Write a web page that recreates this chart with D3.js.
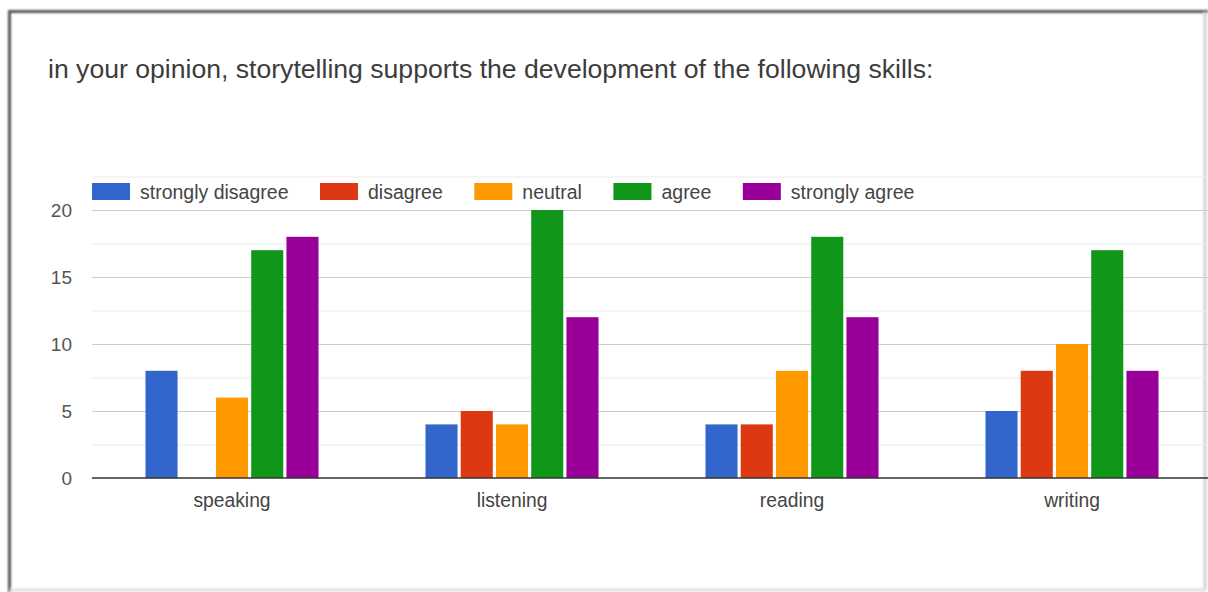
<!DOCTYPE html>
<html>
<head>
<meta charset="utf-8">
<script src="https://cdn.jsdelivr.net/npm/d3@7"></script>
<style>
  html, body { margin: 0; padding: 0; background: #fff; }
  svg { display: block; font-family: "Liberation Sans", Arial, sans-serif; }
</style>
</head>
<body>
<svg id="chart" width="1208" height="592"></svg>
<script>
// Survey responses per skill
const skills = ["speaking", "listening", "reading", "writing"];
const responses = ["strongly disagree", "disagree", "neutral", "agree", "strongly agree"];
const colors = ["#3366cc", "#dc3912", "#ff9900", "#109618", "#990099"];
const stronglyDisagree = [8, 4, 4, 5];
const disagree = [0, 5, 4, 8];
const neutral = [6, 4, 8, 10];
const agree = [17, 20, 18, 17];
const stronglyAgree = [18, 12, 12, 8];
const yTicks = [0, 5, 10, 15, 20];
const yMinorTicks = [2.5, 7.5, 12.5, 17.5, 22.5];
const title = "in your opinion, storytelling supports the development of the following skills:";

const seriesValues = [stronglyDisagree, disagree, neutral, agree, stronglyAgree];

const svg = d3.select("#chart");
const W = 1208, H = 592;

// card frame
const defs = svg.append("defs");
defs.append("filter").attr("id", "soft")
  .append("feGaussianBlur").attr("stdDeviation", 0.9);
const frame = svg.append("g").attr("filter", "url(#soft)");
frame.append("line").attr("x1", 8).attr("x2", W).attr("y1", 11.5).attr("y2", 11.5)
  .attr("stroke", "#555").attr("stroke-width", 3);
frame.append("line").attr("x1", 9.5).attr("x2", 9.5).attr("y1", 10).attr("y2", H)
  .attr("stroke", "#555").attr("stroke-width", 3);
frame.append("line").attr("x1", 1205).attr("x2", 1205).attr("y1", 12).attr("y2", 590)
  .attr("stroke", "#d0d0d0").attr("stroke-width", 3);
frame.append("line").attr("x1", 10).attr("x2", 1206).attr("y1", 590).attr("y2", 590)
  .attr("stroke", "#e0e0e0").attr("stroke-width", 3);

// title
svg.append("text")
  .attr("x", 48).attr("y", 78)
  .attr("font-size", 26.6)
  .attr("fill", "#3c3c3c")
  .text(title);

// scales
const plotLeft = 92, plotRight = 1212;
const y = d3.scaleLinear().domain([0, 22.5]).range([478, 176.5]);
const x0 = d3.scaleBand().domain(skills).range([plotLeft, plotRight])
  .paddingInner(0.382).paddingOuter(0.191);
const x1 = d3.scaleBand().domain(responses).range([0, x0.bandwidth()]).paddingInner(0.09);

// gridlines
svg.append("g").selectAll("line").data(yMinorTicks).join("line")
  .attr("x1", plotLeft).attr("x2", W)
  .attr("y1", d => y(d) + 0.5).attr("y2", d => y(d) + 0.5)
  .attr("stroke", "#ebebeb").attr("stroke-width", 1);
svg.append("g").selectAll("line").data(yTicks.filter(d => d !== 0)).join("line")
  .attr("x1", plotLeft).attr("x2", W)
  .attr("y1", d => y(d) + 0.5).attr("y2", d => y(d) + 0.5)
  .attr("stroke", "#cccccc").attr("stroke-width", 1);

// y tick labels
svg.append("g").selectAll("text").data(yTicks).join("text")
  .attr("x", 72).attr("y", d => y(d)).attr("dy", "0.36em")
  .attr("text-anchor", "end").attr("font-size", 19)
  .attr("fill", "#555")
  .text(d => d);

// bars
const groups = svg.append("g").selectAll("g").data(skills).join("g")
  .attr("transform", s => `translate(${x0(s)},0)`);
groups.selectAll("rect")
  .data((s, i) => responses.map((r, k) => ({ r, k, v: seriesValues[k][i] })))
  .join("rect")
  .attr("x", d => x1(d.r))
  .attr("width", x1.bandwidth())
  .attr("y", d => y(d.v))
  .attr("height", d => y(0) - y(d.v))
  .attr("fill", d => colors[d.k]);

// baseline
svg.append("line").attr("x1", plotLeft).attr("x2", W)
  .attr("y1", y(0)).attr("y2", y(0))
  .attr("stroke", "#333").attr("stroke-width", 1.5);

// category labels
svg.append("g").selectAll("text").data(skills).join("text")
  .attr("x", s => x0(s) + x0.bandwidth() / 2).attr("y", 507)
  .attr("text-anchor", "middle").attr("font-size", 19.3)
  .attr("fill", "#444")
  .text(s => s);

// legend
const legend = svg.append("g").attr("transform", "translate(92,183)");
let lx = 0;
responses.forEach((r, k) => {
  const item = legend.append("g").attr("transform", `translate(${lx},0)`);
  item.append("rect").attr("width", 38).attr("height", 17).attr("fill", colors[k]);
  const t = item.append("text").attr("x", 48).attr("y", 15.5)
    .attr("font-size", 19.5).attr("fill", "#444").text(r);
  lx += 48 + t.node().getComputedTextLength() + 31.5;
});
</script>
</body>
</html>
